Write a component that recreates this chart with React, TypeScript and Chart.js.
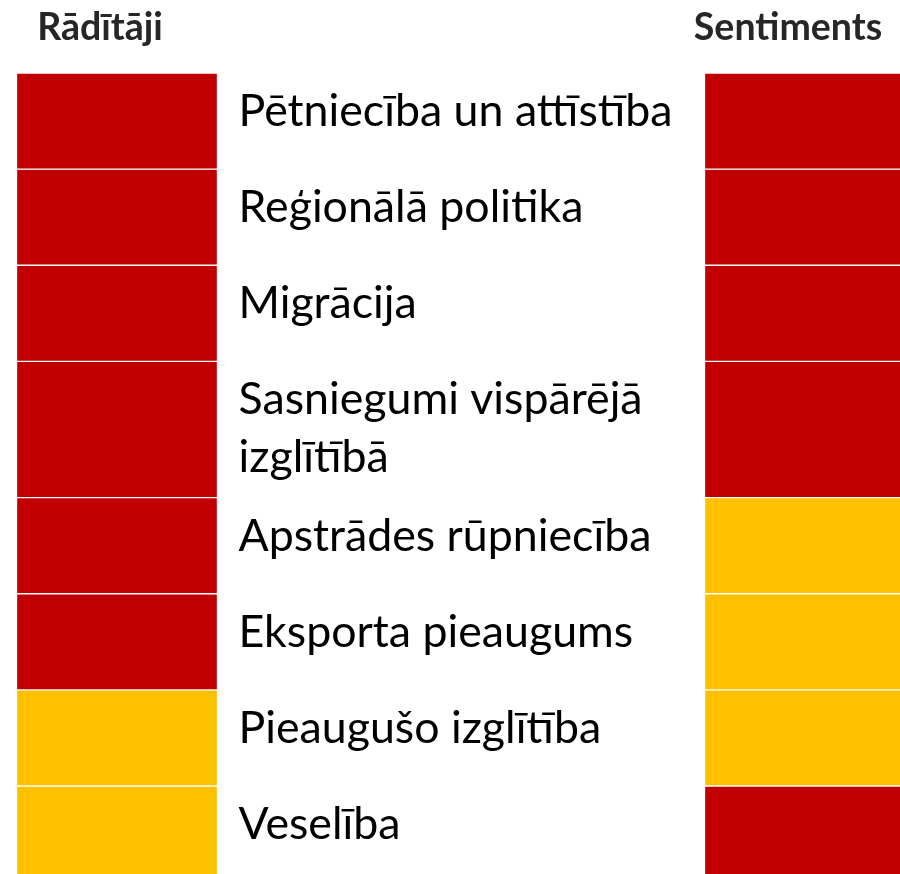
import React, { useEffect, useRef } from "react";
import { Chart, registerables } from "chart.js";

Chart.register(...registerables);

const COLUMNS = ["Rādītāji", "Sentiments"];
const INDICATORS: string[][] = [
  ["Pētniecība un attīstība"],
  ["Reģionālā politika"],
  ["Migrācija"],
  ["Sasniegumi vispārējā", "izglītībā"],
  ["Apstrādes rūpniecība"],
  ["Eksporta pieaugums"],
  ["Pieaugušo izglītība"],
  ["Veselība"],
];
const RADITAJI_STATUS = ["red", "red", "red", "red", "red", "red", "yellow", "yellow"];
const SENTIMENT_STATUS = ["red", "red", "red", "red", "yellow", "yellow", "yellow", "red"];

const STATUS_COLORS: Record<string, string> = { red: "#C00000", yellow: "#FFC000" };

const LABEL_FONT = "Lato";
const LABEL_SIZE = 44.7;

const rowSpan = (lines: string[]) => 1 + (lines.length - 1) * 0.417;
const TOTAL = INDICATORS.reduce((s, l) => s + rowSpan(l), 0);

const labelPlugin = {
  id: "rowLabels",
  afterDatasetsDraw(chart: any) {
    const ctx = chart.ctx;
    const y = chart.scales.y;
    let cum = 0;
    ctx.save();
    ctx.fillStyle = "#000000";
    ctx.font = `${LABEL_SIZE}px ${LABEL_FONT}`;
    ctx.textAlign = "left";
    ctx.textBaseline = "alphabetic";
    INDICATORS.forEach((lines, i) => {
      const top = y.getPixelForValue(cum);
      const bar = chart.getDatasetMeta(i).data[0];
      const { x, width } = bar.getProps(["x", "width"], true);
      const tx = x + width / 2 + 21;
      lines.forEach((ln, j) => ctx.fillText(ln, tx, top + 53 + j * 58));
      cum += rowSpan(lines);
    });
    ctx.restore();
  },
};

export default function App() {
  const ref = useRef<HTMLCanvasElement>(null);
  useEffect(() => {
    document.body.style.margin = "0";
    const datasets = INDICATORS.map((lines, i) => ({
      label: lines.join(" "),
      data: COLUMNS.map(() => rowSpan(lines)),
      backgroundColor: [STATUS_COLORS[RADITAJI_STATUS[i]], STATUS_COLORS[SENTIMENT_STATUS[i]]],
      borderColor: "#FFFFFF",
      borderWidth: 1,
      borderSkipped: false as const,
      barThickness: 201,
      clip: false as const,
    }));
    const chart = new Chart(ref.current!, {
      type: "bar",
      data: { labels: COLUMNS, datasets },
      options: {
        animation: false,
        responsive: true,
        maintainAspectRatio: false,
        layout: { padding: { left: 117, right: 95, top: -18, bottom: 0 } },
        plugins: { legend: { display: false }, tooltip: { enabled: false } },
        scales: {
          x: {
            position: "top",
            offset: false,
            stacked: true,
            grid: { display: false, drawTicks: false },
            border: { display: false },
            afterFit: (scale: any) => {
              scale.paddingLeft = 0;
              scale.paddingRight = 0;
            },
            ticks: {
              color: "#262626",
              font: { family: LABEL_FONT, size: 37.5, weight: "bold" },
              padding: 23,
              labelOffset: -17,
              autoSkip: false,
              maxRotation: 0,
            },
          },
          y: {
            display: false,
            stacked: true,
            reverse: true,
            min: 0,
            max: TOTAL - 0.085,
          },
        },
      },
      plugins: [labelPlugin],
    });
    return () => chart.destroy();
  }, []);
  return (
    <div style={{ position: "fixed", left: 0, top: 0, width: 900, height: 874, background: "#fff" }}>
      <canvas ref={ref} />
    </div>
  );
}
